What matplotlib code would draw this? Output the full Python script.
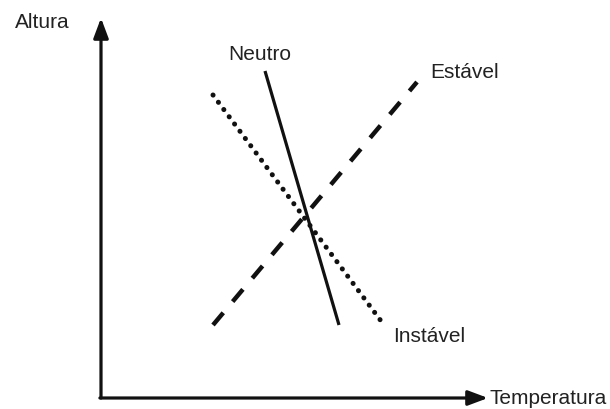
import matplotlib
matplotlib.use("Agg")
import matplotlib.pyplot as plt

plt.rcParams['font.family'] = ['Liberation Sans', 'DejaVu Sans']
plt.rcParams['lines.scale_dashes'] = False

# Profile lines (temperature, height) endpoints in figure space
series = ["Neutro", "Estável", "Instável"]
x_start = [265, 213, 213]
y_start = [71, 325, 95]
x_end = [339, 417, 384]
y_end = [325, 82, 325]

# label anchors (left x, center y)
label_x = [228, 430, 393]
label_y = [55, 73, 337]

axis_labels = ["Altura", "Temperatura"]

fig = plt.figure(figsize=(6.10, 4.09), dpi=100)
ax = fig.add_axes([0, 0, 1, 1])
ax.set_xlim(0, 610)
ax.set_ylim(409, 0)
ax.axis('off')

ink = '#111111'
styles = [
    dict(linestyle='-', lw=2.3, solid_capstyle='butt'),
    dict(linestyle=(0, (11.5, 10.5)), lw=3.2, dash_capstyle='butt'),
    dict(linestyle=(0, (0.1, 6.4)), lw=3.6, dash_capstyle='round'),
]
for i, name in enumerate(series):
    ax.plot([x_start[i], x_end[i]], [y_start[i], y_end[i]], color=ink, **styles[i])
    ax.text(label_x[i], label_y[i], name, fontsize=15, color='#222222',
            ha='left', va='center')

# axes arrows
origin = (101, 398)
astyle = '-|>,head_length=0.4,head_width=0.15'
ax.annotate('', xy=(101, 18), xytext=origin,
            arrowprops=dict(arrowstyle=astyle, lw=2.3, color=ink,
                            mutation_scale=30, shrinkA=0, shrinkB=0))
ax.annotate('', xy=(488, 398), xytext=(99.9, 398),
            arrowprops=dict(arrowstyle=astyle, lw=2.3, color=ink,
                            mutation_scale=30, shrinkA=0, shrinkB=0))

ax.text(15, 23, axis_labels[0], fontsize=15, color='#222222', ha='left', va='center')
ax.text(489, 398, axis_labels[1], fontsize=15, color='#222222', ha='left', va='center')

fig.savefig('out.png', dpi=100, facecolor='white')
